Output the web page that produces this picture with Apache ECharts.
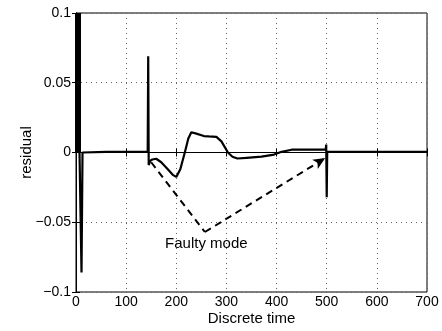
<!DOCTYPE html>
<html>
<head>
<meta charset="utf-8">
<script src="https://cdn.jsdelivr.net/npm/echarts@6/dist/echarts.min.js"></script>
<style>html,body{margin:0;padding:0;background:#fff;}#c{width:442px;height:331px;}</style>
</head>
<body>
<div id="c"></div>
<script>
// Initial high-frequency burst (dense band, clipped above 0.1)
const burstTime = [4];
const burstValue = [0.15];
// Residual signal (discrete time, value)
const residualTime = [7,9,11,13,15,60,100,143,144,145,148,152,160,170,183,193,200,208,217,224,230,240,255,265,280,290,303,312,322,340,370,395,410,430,470,498,499,500,501,600,700];
const residualValue = [0,0,-0.086,0,0.0005,0.0005,0.0005,0.0005,0.069,-0.009,-0.006,-0.005,-0.0045,-0.007,-0.012,-0.016,-0.0175,-0.012,0,0.01,0.0145,0.0135,0.0118,0.0115,0.0112,0.008,0,-0.003,-0.0043,-0.0038,-0.003,-0.0015,0.0005,0.002,0.002,0.002,0.0057,-0.032,0.0005,0.0005,0.0005];
// Dashed "Faulty mode" arrow path
const faultTime = [150, 257, 497];
const faultValue = [-0.007, -0.057, -0.004];
const faultLabel = "Faulty mode";
const faultLabelPos = [260, -0.0655];
// Ticks
const xTicks = [0,100,200,300,400,500,600,700];
const yTicks = [-0.1,-0.05,0,0.05,0.1];
const yTickLabels = ["\u22120.1","\u22120.05","0","0.05","0.1"];

const chart = echarts.init(document.getElementById('c'));
const font = 'Liberation Sans, Arial, sans-serif';
const seriesData = residualTime.map((t,i)=>[t,residualValue[i]]);
const burstData = burstTime.map((t,i)=>[t,burstValue[i]]);

function yLabel(v){
  for(let i=0;i<yTicks.length;i++){ if(Math.abs(v-yTicks[i])<1e-9) return yTickLabels[i]; }
  return '';
}
const dotted = {show:true, lineStyle:{color:'#666', type:[1,4], width:1}};
chart.setOption({
  animation:false,
  backgroundColor:'#fff',
  grid:{left:76, right:15, top:13, bottom:38, show:true, borderColor:'#000', borderWidth:1},
  xAxis:[{
    type:'value', min:xTicks[0], max:xTicks[xTicks.length-1], interval:100,
    name:'Discrete time', nameLocation:'middle', nameGap:19, nameMoveOverlap:false,
    nameTextStyle:{fontFamily:font, fontSize:15, color:'#000'},
    axisLine:{show:true, lineStyle:{color:'#000', width:1}},
    axisTick:{show:true, inside:true, length:4, lineStyle:{color:'#000'}},
    axisLabel:{fontFamily:font, fontSize:14, color:'#000', margin:3},
    splitLine:dotted
  },{
    type:'value', position:'top', min:xTicks[0], max:xTicks[xTicks.length-1], interval:100,
    axisLine:{show:true, lineStyle:{color:'#000'}},
    axisTick:{show:true, inside:true, length:4, lineStyle:{color:'#000'}},
    axisLabel:{show:false}, splitLine:{show:false}
  }],
  yAxis:[{
    type:'value', min:-0.1, max:0.1, interval:0.05,
    name:'residual', nameLocation:'middle', nameGap:42, nameRotate:90, nameMoveOverlap:false,
    nameTextStyle:{fontFamily:font, fontSize:15, color:'#000'},
    axisLine:{show:true, lineStyle:{color:'#000', width:1}},
    axisTick:{show:true, inside:true, length:4, lineStyle:{color:'#000'}},
    axisLabel:{fontFamily:font, fontSize:14, color:'#000', margin:5, formatter:yLabel},
    splitLine:dotted
  },{
    type:'value', position:'right', min:-0.1, max:0.1, interval:0.05,
    axisLine:{show:true, lineStyle:{color:'#000'}},
    axisTick:{show:true, inside:true, length:4, lineStyle:{color:'#000'}},
    axisLabel:{show:false}, splitLine:{show:false}
  }],
  series:[{
    type:'bar', data:burstData, barWidth:6, clip:true,
    itemStyle:{color:'#000'}, z:5
  },{
    type:'line', data:seriesData, showSymbol:false, symbol:'none', clip:true,
    lineStyle:{color:'#000', width:2.2}, z:5
  },{
    type:'line', data:[], symbol:'none',
    markLine:{
      silent:true, symbol:['none','none'],
      lineStyle:{color:'#000', width:2, type:[7,5]},
      label:{show:false},
      data:[
        [{coord:[faultTime[0],faultValue[0]], symbol:'none'},{coord:[faultTime[1],faultValue[1]], symbol:'none'}],
        [{coord:[faultTime[1],faultValue[1]], symbol:'none'},{coord:[faultTime[2],faultValue[2]], symbol:'arrow', symbolSize:[8,12]}]
      ]
    },
    markPoint:{
      silent:true, symbol:'circle', symbolSize:1, itemStyle:{color:'rgba(0,0,0,0)'},
      label:{show:true, formatter:faultLabel, fontFamily:font, fontSize:15, color:'#000', position:'inside'},
      data:[{coord:faultLabelPos}]
    }
  }]
});
</script>
</body>
</html>
